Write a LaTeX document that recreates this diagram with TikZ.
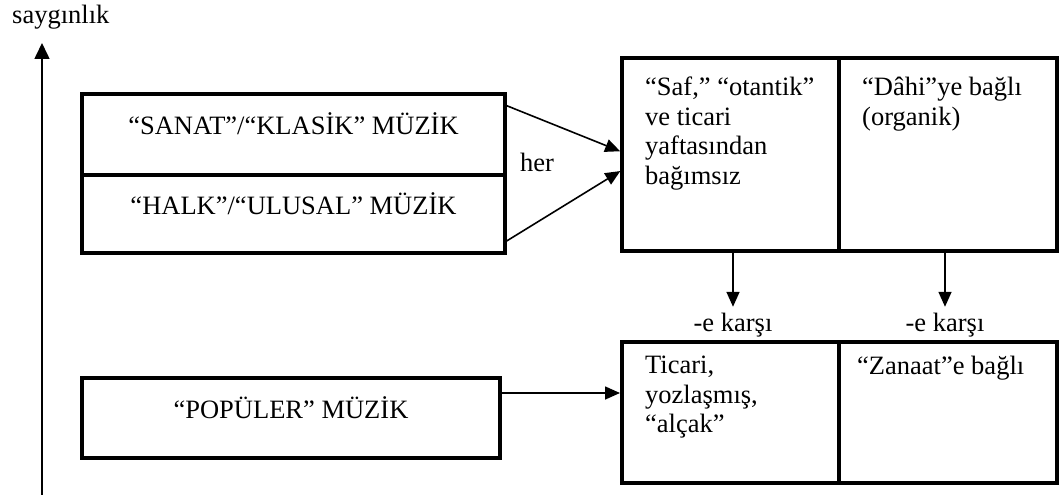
\documentclass[tikz,border=0pt]{standalone}
\usepackage{fontspec}
\setmainfont{Liberation Serif}
\usetikzlibrary{positioning,arrows.meta}

\tikzset{
	cell/.style={draw, line width=4pt, outer sep=0pt, inner sep=0pt, text height=0pt, text depth=0pt},
	celltext/.style={inner sep=0pt, align=left},
	note/.style={inner sep=0pt},
	link/.style={line width=1.6pt, -{Triangle[length=15pt,width=13pt]}},
}

\begin{document}
\begin{tikzpicture}[x=1pt, y=-1pt, font=\fontsize{26.5}{29.5}\selectfont]
	\useasboundingbox (0,0) rectangle (1060,495);

	\node[cell, minimum width=423pt, minimum height=81pt] (sanat) at (293.5,134.5) {“SANAT”/“KLASİK” MÜZİK};
	\node[cell, minimum width=423pt, minimum height=78pt, below=0pt of sanat] (halk) {“HALK”/“ULUSAL” MÜZİK};
	\node[cell, minimum width=418pt, minimum height=80pt] (populer) at (291,418) {“POPÜLER” MÜZİK};

	\node[cell, minimum width=217pt, minimum height=193pt] (saf) at (730.5,154.5) {};
	\node[cell, minimum width=218pt, minimum height=193pt, right=0pt of saf] (dahi) {};
	\node[cell, minimum width=217pt, minimum height=141pt] (ticari) at (730.5,412.5) {};
	\node[cell, minimum width=218pt, minimum height=141pt, right=0pt of ticari] (zanaat) {};

	\node[celltext, below right=19pt and 23pt of saf.north west] (saftext) {“Saf,” “otantik”\\ve ticari\\yaftasından\\bağımsız};
	\node[celltext, below right=19pt and 23pt of dahi.north west] (dahitext) {“Dâhi”ye bağlı\\(organik)};
	\node[celltext, below right=14pt and 23pt of ticari.north west] (ticaritext) {Ticari,\\yozlaşmış,\\“alçak”};
	\node[celltext, below right=14pt and 18pt of zanaat.north west] (zanaattext) {“Zanaat”e bağlı};

	\node[note] (her) at (537,162) {her};
	\node[note] (karsisaf) at (733,325) {-e karşı};
	\node[note] (karsidahi) at (945,325) {-e karşı};
	\node[note, anchor=west] (saygi) at (12,17) {saygınlık};

	\coordinate (axisfoot) at (42,495);
	\coordinate (axistop) at (42,43);
	\coordinate (popout) at ([yshift=-15pt]populer.north east);

	\draw[line width=1.6pt, -{Triangle[length=16pt,width=15pt]}] (axisfoot) -- (axistop);
	\draw[link, shorten >=2pt] ([yshift=-11pt]sanat.north east) -- ([yshift=2.5pt]saf.west);
	\draw[link, shorten >=2pt] ([yshift=11pt]halk.south east) -- ([yshift=-15.5pt]saf.west);
	\draw[link, shorten >=2pt] (popout) -- (popout -| ticari.west);
	\draw[link, shorten <=2pt, shorten >=6pt] (karsisaf.north |- saf.south) -- (karsisaf.north);
	\draw[link, shorten <=2pt, shorten >=6pt] (karsidahi.north |- dahi.south) -- (karsidahi.north);

\end{tikzpicture}
\end{document}
